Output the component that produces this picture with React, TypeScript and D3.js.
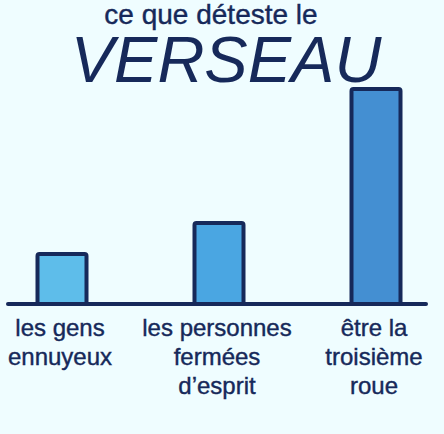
import React from 'react';
import * as d3 from 'd3';

// what the Verseau hates, bar heights
const categories = ['gens', 'fermes', 'roue'];
const values = [50, 81, 215];
const labelLines = [
  ['les gens', 'ennuyeux'],
  ['les personnes', 'fermées', 'd\u2019esprit'],
  ['être la', 'troisième', 'roue']
];
const fills = ['#5ebdea', '#4aa6e2', '#448fd2'];

const W = 444;
const H = 434;
const ink = '#16295a';
const font = '"Liberation Sans", Arial, Helvetica, sans-serif';

export default function App() {
  const baseY = 304;

  // point scale puts the bar centres for us
  const x = d3.scalePoint<string>().domain(categories).range([62, 376]);
  const y = d3.scaleLinear().domain([0, 215]).range([baseY, 89]);
  const barW = 49;

  return (
    <div style={{ position: 'absolute', left: 0, top: 0 }}>
      <svg width={W} height={H} style={{ display: 'block', background: '#effdff' }}>
        <text
          x={211}
          y={24}
          textAnchor="middle"
          fontFamily={font}
          fontSize={28}
          fill={ink}
          stroke={ink}
          strokeWidth={0.4}
        >
          ce que déteste le
        </text>
        <text
          x={226}
          y={82}
          textAnchor="middle"
          fontFamily={font}
          fontStyle="italic"
          fontSize={65}
          fill={ink}
        >
          VERSEAU
        </text>

        {categories.map((c, i) => (
          <rect
            key={c}
            x={(x(c) as number) - barW / 2}
            y={y(values[i])}
            width={barW}
            height={baseY - y(values[i])}
            rx={2}
            fill={fills[i]}
            stroke={ink}
            strokeWidth={4}
          />
        ))}

        <line x1={8} x2={426} y1={baseY} y2={baseY} stroke={ink} strokeWidth={4} strokeLinecap="round" />

        {categories.map((c, i) => (
          <text
            key={c + '-lab'}
            x={(x(c) as number) - 2}
            textAnchor="middle"
            fontFamily={font}
            fontSize={24}
            fill={ink}
            stroke={ink}
            strokeWidth={0.4}
          >
            {labelLines[i].map((l, j) => (
              <tspan key={j} x={(x(c) as number) - 2} y={336 + j * 29}>
                {l}
              </tspan>
            ))}
          </text>
        ))}
      </svg>
    </div>
  );
}
